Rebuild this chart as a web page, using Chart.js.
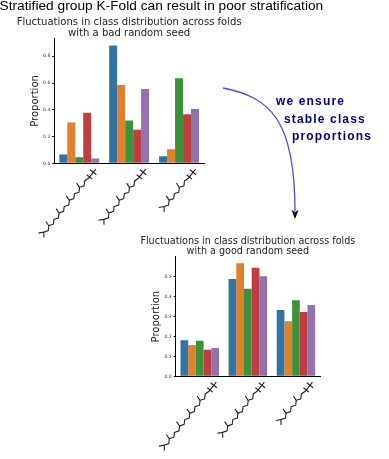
<!DOCTYPE html>
<html><head><meta charset="utf-8">
<script src="https://cdn.jsdelivr.net/npm/chart.js@4"></script>
<style>
html,body{margin:0;padding:0;background:#fff;width:389px;height:459px;overflow:hidden}
canvas.c{position:absolute;left:0;top:0;filter:blur(0.3px)}
.t{position:absolute;white-space:nowrap;line-height:1}
#main{left:-0.5px;top:-2px;font:13.7px "Liberation Sans",sans-serif;color:#000;letter-spacing:0.02px}
.n{font:bold 12px "Liberation Sans",sans-serif;color:#00008b;letter-spacing:1.15px}
svg{position:absolute;left:0;top:0}
</style></head><body>
<canvas class="c" id="top" width="389" height="459"></canvas>
<canvas class="c" id="bottom" width="389" height="459"></canvas>
<div class="t" id="main">Stratified group K-Fold can result in poor stratification</div>
<div class="t n" style="left:276px;top:94px">we ensure</div>
<div class="t n" style="left:284px;top:112px">stable class</div>
<div class="t n" style="left:292px;top:129px">proportions</div>
<svg width="389" height="459">
<path d="M223 88 C270 97 295 120 295 211" fill="none" stroke="#4a4ae6" stroke-width="1.3"/>
<path d="M291.5 210 L295 212 L298.5 210 L295 219 Z" fill="#000"/>
</svg>
<script>
const folds = ["Fold 1", "Fold 2", "Fold 3"];
const classes = ["Class 1", "Class 2", "Class 3", "Class 4", "Class 5"];
const colors = ["#3274a1", "#e1812c", "#3a923a", "#c03d3e", "#9372b2"];
const badTitle = ["Fluctuations in class distribution across folds", "with a bad random seed"];
const goodTitle = ["Fluctuations in class distribution across folds", "with a good random seed"];
const bad1 = [0.065, 0.88, 0.052];
const bad2 = [0.305, 0.585, 0.105];
const bad3 = [0.045, 0.32, 0.635];
const bad4 = [0.378, 0.25, 0.367];
const bad5 = [0.035, 0.555, 0.405];
const good1 = [0.18, 0.487, 0.332];
const good2 = [0.157, 0.565, 0.275];
const good3 = [0.178, 0.438, 0.38];
const good4 = [0.133, 0.543, 0.322];
const good5 = [0.142, 0.5, 0.357];
const moleculeUnits = [4, 3, 2];

const moleculePlugin = {
  id: 'molecules',
  afterDraw(chart) {
    const ctx = chart.ctx, x = chart.scales.x, base = chart.chartArea.bottom;
    ctx.save();
    ctx.strokeStyle = '#222';
    ctx.lineWidth = 1.1;
    moleculeUnits.forEach((n, i) => {
      ctx.save();
      ctx.translate(x.getPixelForTick(i) + 14, base + 9);
      ctx.rotate(Math.atan2(15, -12));
      const step = 4.1, amp = 1.3;
      ctx.beginPath();
      ctx.moveTo(-4, 0); ctx.lineTo(8, 0);
      ctx.moveTo(0, -4); ctx.lineTo(0, 4);
      ctx.moveTo(6, -3.5); ctx.lineTo(6, 3.5);
      ctx.moveTo(8, 0);
      const bonds = n * 4 + 1;
      for (let k = 1; k <= bonds; k++) {
        ctx.lineTo(8 + k * step, k % 2 ? amp : -amp);
      }
      ctx.stroke();
      ctx.beginPath();
      for (let u = 1; u <= n; u++) {
        const px = 8 + (u * 4 - 1) * step;
        ctx.moveTo(px, amp); ctx.lineTo(px - 1.5, amp + 5);
      }
      const ex = 8 + bonds * step, ey = bonds % 2 ? amp : -amp;
      ctx.moveTo(ex, ey); ctx.lineTo(ex + 4, ey + 3.5);
      ctx.moveTo(ex, ey); ctx.lineTo(ex + 4, ey - 3.5);
      ctx.stroke();
      ctx.restore();
    });
    ctx.restore();
  }
};

function draw(id, titleText, titleSize, series, yMax, step, pad) {
  const side = 40;
  new Chart(document.getElementById(id), {
    type: 'bar',
    data: {
      labels: folds,
      datasets: series.map((d, i) => ({
        label: classes[i], data: d, backgroundColor: colors[i], borderWidth: 0,
        barPercentage: 1, categoryPercentage: 0.8
      }))
    },
    plugins: [moleculePlugin],
    options: {
      responsive: false, animation: false,
      layout: { padding: pad },
      plugins: {
        legend: { display: false },
        tooltip: { enabled: false },
        title: {
          display: true, text: titleText, color: '#222',
          font: { family: 'DejaVu Sans', size: titleSize, weight: 'normal', lineHeight: 1.1 },
          padding: { top: 0, bottom: 0 }
        }
      },
      scales: {
        x: {
          ticks: { display: false },
          grid: { display: false },
          border: { display: true, color: '#000', width: 1 },
          afterFit(s) { s.height = 0; }
        },
        y: {
          min: 0, max: yMax,
          ticks: { stepSize: step, includeBounds: false, color: '#444', padding: 2,
                   font: { family: 'DejaVu Sans', size: 4.6 },
                   callback: v => v.toFixed(1) },
          grid: { drawOnChartArea: false, tickLength: 2, color: '#000' },
          border: { display: true, color: '#000', width: 1 },
          title: { display: true, text: 'Proportion', color: '#222', padding: { top: 15, bottom: 0 },
                   font: { family: 'DejaVu Sans', size: 10 } },
          afterFit(s) { s.width = side; }
        },
        spacer: {
          position: 'right',
          ticks: { display: false },
          grid: { display: false },
          border: { display: false },
          afterFit(s) { s.width = side; }
        }
      }
    }
  });
}
draw('top', badTitle, 10.05, [bad1, bad2, bad3, bad4, bad5], 0.932, 0.2,
     { left: 14.3, right: 145, top: 16.5, bottom: 295.7 });
draw('bottom', goodTitle, 9.6, [good1, good2, good3, good4, good5], 0.597, 0.1,
     { left: 135.7, right: 29, top: 235.8, bottom: 82.7 });
</script>
</body></html>
